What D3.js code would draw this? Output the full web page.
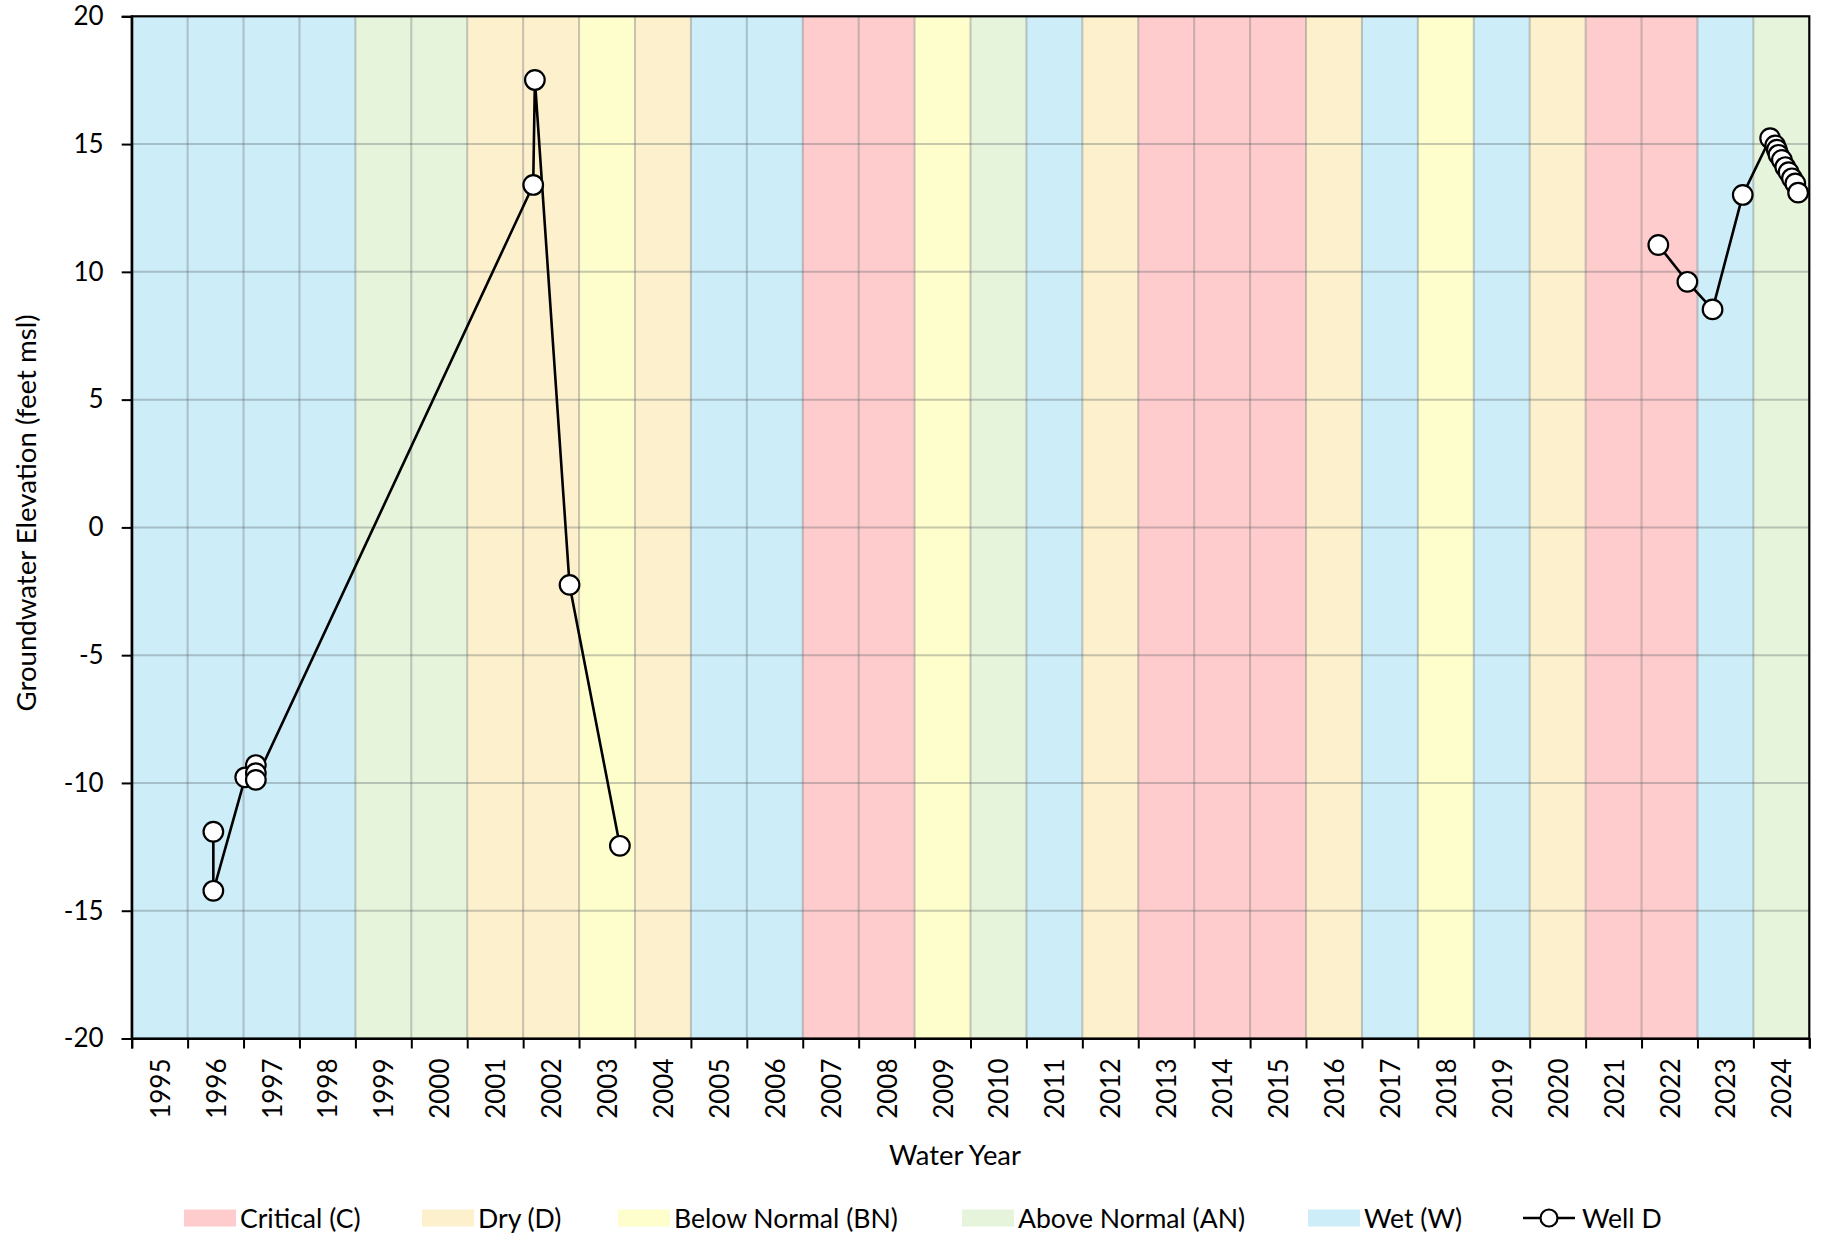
<!DOCTYPE html>
<html>
<head>
<meta charset="utf-8">
<script src="https://cdn.jsdelivr.net/npm/d3@7"></script>
<style>
  html, body { margin: 0; padding: 0; background: #ffffff; }
  svg { display: block; font-family: Lato, "Open Sans", sans-serif; }
</style>
</head>
<body>
<svg id="chart" width="1821" height="1235"></svg>
<script>
// ---------- DATA ----------
const waterYears = [1995,1996,1997,1998,1999,2000,2001,2002,2003,2004,2005,2006,2007,2008,2009,
                    2010,2011,2012,2013,2014,2015,2016,2017,2018,2019,2020,2021,2022,2023,2024];
const yearTypes  = ["W","W","W","W","AN","AN","D","D","BN","D","W","W","C","C","BN",
                    "AN","W","D","C","C","C","D","W","BN","W","D","C","C","W","AN"];
const typeKeys   = ["C","D","BN","AN","W"];
const typeLabels = ["Critical (C)","Dry (D)","Below Normal (BN)","Above Normal (AN)","Wet (W)"];
const typeColors = ["#ffcccd","#fdf0cd","#fefdcc","#e7f4dc","#cdedf8"];

// decimal calendar-year dates of measurements (null = break in the record)
const wellDates = [1996.21,1996.21,1996.78,1996.97,1996.97,1996.97,2001.93,2001.96,2002.58,2003.48,
                   null,
                   2022.05,2022.57,2023.02,2023.56,2024.05,2024.14,2024.17,2024.20,2024.26,
                   2024.32,2024.38,2024.44,2024.50,2024.55];
const wellElev  = [-11.91,-14.22,-9.78,-9.30,-9.62,-9.88,13.40,17.51,-2.25,-12.46,
                   null,
                   11.05,9.61,8.53,13.01,15.23,14.95,14.78,14.58,14.38,
                   14.10,13.90,13.66,13.46,13.10];
const seriesName = "Well D";
const yTicks = [-20,-15,-10,-5,0,5,10,15,20];
const yTitle = "Groundwater Elevation (feet msl)";
const xTitle = "Water Year";

// ---------- LAYOUT ----------
const W = 1821, H = 1235;
const plot = { left: 131.7, right: 1809.3, top: 16.3, bottom: 1038.5 };
const svg = d3.select("#chart");

// water year Y runs from Oct 1 of Y-1 to Sep 30 of Y
const x = d3.scaleLinear()
  .domain([waterYears[0] - 0.25, waterYears[waterYears.length - 1] + 0.75])
  .range([plot.left, plot.right]);
const y = d3.scaleLinear().domain([-20, 20]).range([plot.bottom, plot.top]);
const color = d3.scaleOrdinal().domain(typeKeys).range(typeColors);

// background bands
svg.append("g").selectAll("rect")
  .data(waterYears)
  .join("rect")
  .attr("x", d => x(d - 0.25))
  .attr("width", d => x(d + 0.75) - x(d - 0.25))
  .attr("y", plot.top)
  .attr("height", plot.bottom - plot.top)
  .attr("fill", (d, i) => color(yearTypes[i]));

// grid
const gridColor = "rgba(85,95,100,0.33)";
svg.append("g").selectAll("line.v")
  .data(waterYears.slice(1))
  .join("line")
  .attr("x1", d => x(d - 0.25)).attr("x2", d => x(d - 0.25))
  .attr("y1", plot.top).attr("y2", plot.bottom)
  .attr("stroke", gridColor).attr("stroke-width", 2);
svg.append("g").selectAll("line.h")
  .data(yTicks.slice(1, -1))
  .join("line")
  .attr("x1", plot.left).attr("x2", plot.right)
  .attr("y1", d => y(d)).attr("y2", d => y(d))
  .attr("stroke", gridColor).attr("stroke-width", 2);

// frame
svg.append("rect")
  .attr("x", plot.left).attr("y", plot.top)
  .attr("width", plot.right - plot.left).attr("height", plot.bottom - plot.top)
  .attr("fill", "none").attr("stroke", "#000").attr("stroke-width", 2.2);

// Y axis
const yAxis = d3.axisLeft(y).tickValues(yTicks).tickSize(10).tickPadding(18).tickFormat(d3.format("d"));
const gy = svg.append("g").attr("transform", `translate(${plot.left},0)`).call(yAxis);
gy.select(".domain").attr("stroke", "#000").attr("stroke-width", 2.2);
gy.selectAll(".tick line").attr("stroke", "#000").attr("stroke-width", 2);
gy.selectAll(".tick text").attr("font-size", 26).attr("fill", "#000")
  .attr("font-family", "Lato, sans-serif").text(d => d < 0 ? "-" + Math.abs(d) : d);

// X axis: ticks at band boundaries, labels centred in bands
const boundaries = waterYears.map(d => d - 0.25).concat([waterYears[waterYears.length - 1] + 0.75]);
const xAxis = d3.axisBottom(x).tickValues(boundaries).tickSize(10).tickFormat("");
const gx = svg.append("g").attr("transform", `translate(0,${plot.bottom})`).call(xAxis);
gx.select(".domain").attr("stroke", "#000").attr("stroke-width", 2.2);
gx.selectAll(".tick line").attr("stroke", "#000").attr("stroke-width", 2);

svg.append("g").selectAll("text")
  .data(waterYears)
  .join("text")
  .attr("transform", d => `translate(${x(d + 0.25)},${plot.bottom + 20}) rotate(-90)`)
  .attr("text-anchor", "end")
  .attr("dominant-baseline", "central")
  .attr("font-size", 26)
  .attr("fill", "#000")
  .text(d => d);

// axis titles
svg.append("text")
  .attr("transform", `translate(36,513) rotate(-90)`)
  .attr("text-anchor", "middle")
  .attr("font-size", 27.6)
  .attr("fill", "#000")
  .text(yTitle);
svg.append("text")
  .attr("x", 955).attr("y", 1165)
  .attr("text-anchor", "middle")
  .attr("font-size", 27.4)
  .attr("fill", "#000")
  .text(xTitle);

// series
const pts = wellDates.map((d, i) => ({ t: d, v: wellElev[i] }));
const line = d3.line().defined(d => d.t != null && d.v != null).x(d => x(d.t)).y(d => y(d.v));
svg.append("path").datum(pts)
  .attr("d", line)
  .attr("fill", "none").attr("stroke", "#000").attr("stroke-width", 2.6)
  .attr("stroke-linejoin", "round");
svg.append("g").selectAll("circle")
  .data(pts.filter(d => d.t != null))
  .join("circle")
  .attr("cx", d => x(d.t)).attr("cy", d => y(d.v)).attr("r", 9.8)
  .attr("fill", "#fff").attr("stroke", "#000").attr("stroke-width", 2.2);

// legend
const legendY = 1218;
const swatchX = [184, 422, 618, 962, 1308];
const lg = svg.append("g");
typeKeys.forEach((k, i) => {
  lg.append("rect").attr("x", swatchX[i]).attr("y", legendY - 8.5)
    .attr("width", 52).attr("height", 17).attr("fill", typeColors[i]);
  lg.append("text").attr("x", swatchX[i] + 56).attr("y", legendY)
    .attr("dominant-baseline", "central").attr("font-size", 26.6).attr("fill", "#000")
    .text(typeLabels[i]);
});
lg.append("line").attr("x1", 1523).attr("x2", 1575).attr("y1", legendY).attr("y2", legendY)
  .attr("stroke", "#000").attr("stroke-width", 2.6);
lg.append("circle").attr("cx", 1549).attr("cy", legendY).attr("r", 8.5)
  .attr("fill", "#fff").attr("stroke", "#000").attr("stroke-width", 2.2);
lg.append("text").attr("x", 1582).attr("y", legendY)
  .attr("dominant-baseline", "central").attr("font-size", 26.6).attr("fill", "#000")
  .text(seriesName);
</script>
</body>
</html>
